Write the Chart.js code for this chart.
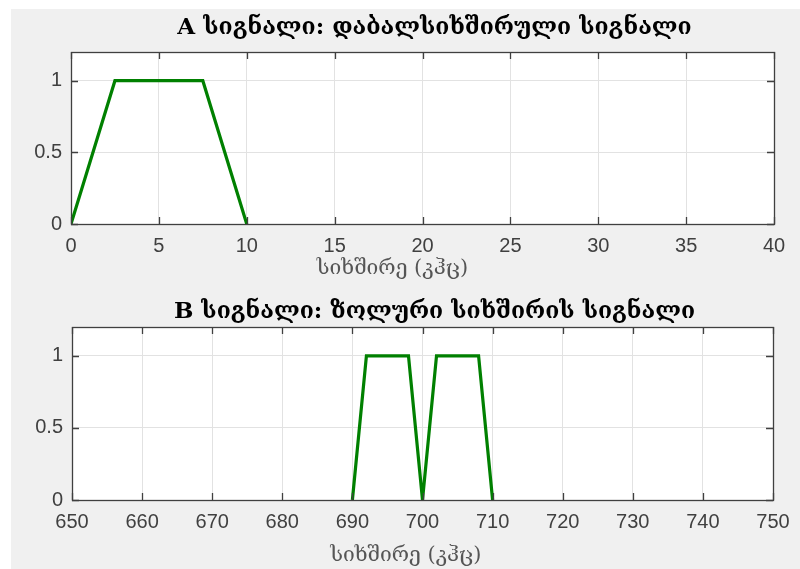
<!DOCTYPE html>
<html>
<head>
<meta charset="utf-8">
<script src="https://cdn.jsdelivr.net/npm/chart.js@4.4.1/dist/chart.umd.min.js"></script>
<style>
  html, body { margin: 0; padding: 0; background: #ffffff; }
  body { width: 800px; height: 569px; position: relative; overflow: hidden; }
  #figure { position: absolute; left: 11px; top: 9px; right: 0; bottom: 0; background: #f0f0f0; }
  canvas { position: absolute; left: 0; }
  #c1 { top: 0; }
  #c2 { top: 285px; }
</style>
</head>
<body>
<div id="figure"></div>
<canvas id="c1" width="800" height="285"></canvas>
<canvas id="c2" width="800" height="284"></canvas>
<script>
// Signal A: low-frequency trapezoid (kHz, amplitude)
const freqA = [0, 2.5, 7.5, 10];
const ampA = [0, 1, 1, 0];
// Signal B: band-pass pair of trapezoids around 700 kHz
const freqB = [690, 692, 698, 700, 702, 708, 710];
const ampB = [0, 1, 1, 0, 1, 1, 0];

const titleA = 'A სიგნალი: დაბალსიხშირული სიგნალი';
const titleB = 'B სიგნალი: ზოლური სიხშირის სიგნალი';
const xLabel = 'სიხშირე (კჰც)';

const xTicksA = [0, 5, 10, 15, 20, 25, 30, 35, 40];
const xTicksB = [650, 660, 670, 680, 690, 700, 710, 720, 730, 740, 750];
const yTicks = [0, 0.5, 1];
const yMax = 1.2;

const LINE_GREEN = '#008000';
const AXIS_COLOR = '#404040';
const TICK_FONT = { family: '"Liberation Sans", Arial, sans-serif', size: 20 };
const GEO_FONT = '"DejaVu Serif", "DejaVu Sans", serif';

// White plot background, dark box and inward tick marks like a MATLAB axes
const axesBox = {
  id: 'axesBox',
  beforeDraw(chart) {
    const { ctx, chartArea: a } = chart;
    ctx.save();
    ctx.fillStyle = '#ffffff';
    ctx.fillRect(a.left, a.top, a.right - a.left, a.bottom - a.top);
    ctx.restore();
  },
  afterDraw(chart) {
    const { ctx, chartArea: a, scales } = chart;
    const len = 7;
    ctx.save();
    ctx.strokeStyle = AXIS_COLOR;
    ctx.lineWidth = 1.3;
    ctx.beginPath();
    scales.x.ticks.forEach(t => {
      const px = Math.round(scales.x.getPixelForValue(t.value)) + 0.5;
      ctx.moveTo(px, a.bottom); ctx.lineTo(px, a.bottom - len);
      ctx.moveTo(px, a.top); ctx.lineTo(px, a.top + len);
    });
    scales.y.ticks.forEach(t => {
      const py = Math.round(scales.y.getPixelForValue(t.value)) + 0.5;
      ctx.moveTo(a.left, py); ctx.lineTo(a.left + len, py);
      ctx.moveTo(a.right, py); ctx.lineTo(a.right - len, py);
    });
    ctx.stroke();
    ctx.strokeRect(Math.round(a.left) + 0.5, Math.round(a.top) + 0.5,
                   Math.round(a.right - a.left), Math.round(a.bottom - a.top));
    ctx.restore();
  }
};

function makeChart(id, xs, ys, xTicks, title, geom) {
  const points = xs.map((x, i) => ({ x, y: ys[i] }));
  return new Chart(document.getElementById(id), {
    type: 'line',
    data: {
      datasets: [{
        data: points,
        borderColor: LINE_GREEN,
        borderWidth: 3.2,
        pointRadius: 0,
        tension: 0,
        fill: false
      }]
    },
    options: {
      responsive: false,
      animation: false,
      events: [],
      layout: { padding: { left: 0, right: geom.padRight, top: 0, bottom: 0 } },
      plugins: {
        legend: { display: false },
        tooltip: { enabled: false },
        title: {
          display: true,
          fullSize: false,
          text: ' '.repeat(geom.titleLead) + title,
          color: '#000000',
          font: { family: GEO_FONT, size: 23, weight: 'bold', lineHeight: 1.2 },
          padding: { top: geom.titleTop, bottom: geom.titleBottom }
        }
      },
      scales: {
        x: {
          type: 'linear',
          min: xTicks[0],
          max: xTicks[xTicks.length - 1],
          afterBuildTicks(axis) { axis.ticks = xTicks.map(v => ({ value: v })); },
          afterFit(axis) { axis.height = geom.xAxisHeight; },
          ticks: { color: AXIS_COLOR, font: TICK_FONT, padding: geom.xTickPad, maxRotation: 0, autoSkip: false,
                   callback: v => String(v) },
          grid: { color: '#e2e2e2', lineWidth: 1, drawTicks: false },
          border: { display: false },
          title: {
            display: true,
            text: xLabel + ' '.repeat(geom.labelTrail),
            color: '#555555',
            font: { family: GEO_FONT, size: 21, lineHeight: 1.2 },
            padding: { top: 0, bottom: geom.xTitlePad }
          }
        },
        y: {
          type: 'linear',
          min: 0,
          max: yMax,
          afterBuildTicks(axis) { axis.ticks = yTicks.map(v => ({ value: v })); },
          afterFit(axis) { axis.width = geom.yAxisWidth; },
          ticks: { color: AXIS_COLOR, font: TICK_FONT, padding: 9, callback: v => String(v) },
          grid: { color: '#e2e2e2', lineWidth: 1, drawTicks: false },
          border: { display: false }
        }
      }
    },
    plugins: [axesBox]
  });
}

makeChart('c1', freqA, ampA, xTicksA, titleA, {
  padRight: 26, titleTop: 14, titleBottom: 10.4, titleLead: 3, xAxisHeight: 61, xTickPad: 10,
  xTitlePad: 4, labelTrail: 9, yAxisWidth: 71
});
makeChart('c2', freqB, ampB, xTicksB, titleB, {
  padRight: 27, titleTop: 13, titleBottom: 1.4, titleLead: 3, xAxisHeight: 69, xTickPad: 10,
  xTitlePad: 1, labelTrail: 5, yAxisWidth: 72
});
</script>
</body>
</html>
